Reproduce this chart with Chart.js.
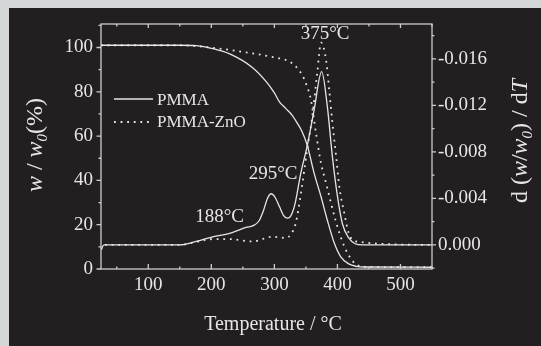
<!DOCTYPE html>
<html>
<head>
<meta charset="utf-8">
<script src="https://cdn.jsdelivr.net/npm/chart.js@4.4.1/dist/chart.umd.min.js"></script>
<style>
    html, body { margin: 0; padding: 0; background: #d5d6d8; }
    #wrap { width: 541px; height: 346px; }
</style>
</head>
<body>
<div id="wrap"><canvas id="tga" width="541" height="346"></canvas></div>
<script>
/* TGA / DTG of PMMA and PMMA-ZnO, white on a dark panel */

const SERIF = '"Liberation Serif", "Times New Roman", serif';
const INK = "#e6e6e6";
const FRAME = "#cdcdcd";

/* TG curves: residual weight (%) vs temperature (°C) */
const tgPmmaTemp = [25, 150, 176, 202, 230, 265, 287, 300, 308, 318, 328, 336, 344, 352, 363, 374, 384, 395, 405, 418, 430, 445, 550];
const tgPmma     = [101, 101, 100.8, 99.5, 97, 91, 84.6, 79.5, 75.5, 72.5, 69.5, 66, 62, 56, 43.3, 32.6, 22, 11.7, 5.6, 2.3, 1.2, 0.9, 0.8];

const tgZnoTemp = [25, 150, 181, 229, 260, 281, 300, 318, 330, 337, 344, 350, 358, 366, 374, 382, 390, 397, 405, 416, 430, 445, 550];
const tgZno     = [101, 101, 100.5, 98.9, 97.6, 96.6, 95.5, 94.4, 92.5, 90.5, 87.6, 83.8, 76.3, 61.3, 47.7, 38.7, 29.6, 22, 14.6, 7.1, 2, 1, 0.8];

/* DTG curves: d(w/w0)/dT */
const dtgPmmaTemp = [25, 30, 100, 150, 176, 202, 229, 255, 268, 276, 283, 289, 295, 301, 308, 315, 321, 327, 333, 342, 352, 363, 375, 384, 392, 400, 408, 418, 428, 440, 550];
const dtgPmma     = [0.0004, 0, 0, 0, -0.0003, -0.0007, -0.001, -0.0015, -0.0017, -0.0021, -0.003, -0.004, -0.0044, -0.0041, -0.0033, -0.0025, -0.0023, -0.0026, -0.0036, -0.0062, -0.0085, -0.0116, -0.0149, -0.0119, -0.0076, -0.0042, -0.0018, -0.0006, -0.0001, 0, 0];

const dtgZnoTemp = [25, 30, 150, 176, 202, 229, 265, 297, 318, 326, 334, 342, 352, 360, 368, 374, 382, 387, 392, 398, 403, 411, 418, 429, 550];
const dtgZno     = [0.0004, 0, 0, -0.00026, -0.0005, -0.0005, -0.0003, -0.0007, -0.0006, -0.0009, -0.0019, -0.0044, -0.0082, -0.011, -0.0148, -0.0174, -0.0159, -0.0133, -0.0105, -0.0076, -0.005, -0.0027, -0.001, -0.0003, 0];

/* tick values */
const xTicks = [100, 200, 300, 400, 500];
const xMinor = [50, 150, 250, 350, 450, 550];
const wTicks = [0, 20, 40, 60, 80, 100];
const wMinor = [10, 30, 50, 70, 90, 110];
const dTicks = [-0.016, -0.012, -0.008, -0.004, 0];
const dMinor = [-0.018, -0.014, -0.010, -0.006, -0.002, 0.002];

const seriesNames = ["PMMA", "PMMA-ZnO"];

/* peak annotations, anchored in (temperature, weight %) units */
const peakNotes = [
    { text: "188°C", t: 213, w: 23.3 },
    { text: "295°C", t: 298, w: 43.1 },
    { text: "375°C", t: 380.5, w: 106 },
];

const pairs = (xs, ys) => xs.map((x, i) => ({ x, y: ys[i] }));
const fixedTicks = vals => scale => { scale.ticks = vals.map(v => ({ value: v })); };

function richText(ctx, parts, cx, cy, size, angle) {
    const fontOf = p => `${p.italic ? "italic " : ""}${p.sub ? Math.round(size * 0.62) : size}px ${SERIF}`;
    let total = 0;
    parts.forEach(p => { ctx.font = fontOf(p); p.w = ctx.measureText(p.text).width; total += p.w; });
    ctx.save();
    ctx.translate(cx, cy);
    ctx.rotate(angle);
    ctx.textBaseline = "alphabetic";
    ctx.textAlign = "left";
    let x = -total / 2;
    const base = size * 0.33;
    parts.forEach(p => {
        ctx.font = fontOf(p);
        ctx.fillText(p.text, x, base + (p.sub ? size * 0.22 : 0));
        x += p.w;
    });
    ctx.restore();
}

const decor = {
    id: "decor",
    beforeDraw(chart) {
        const ctx = chart.ctx;
        ctx.save();
        ctx.fillStyle = "#d5d6d8";
        ctx.fillRect(0, 0, chart.width, chart.height);
        ctx.fillStyle = "#231f20";
        ctx.fillRect(9, 8, chart.width - 9, chart.height - 8);
        ctx.restore();
    },
    afterDraw(chart) {
        const ctx = chart.ctx;
        const { left, right, top, bottom } = chart.chartArea;
        const sx = chart.scales.x, sy = chart.scales.y, sd = chart.scales.y2;
        ctx.save();

        /* frame */
        ctx.strokeStyle = FRAME;
        ctx.lineWidth = 1.3;
        ctx.strokeRect(left, top, right - left, bottom - top);

        /* tick marks */
        ctx.beginPath();
        const mark = (x1, y1, x2, y2) => { ctx.moveTo(x1, y1); ctx.lineTo(x2, y2); };
        xTicks.forEach(v => { const p = sx.getPixelForValue(v); mark(p, bottom, p, bottom - 5); mark(p, top, p, top + 4); });
        xMinor.forEach(v => { const p = sx.getPixelForValue(v); mark(p, bottom, p, bottom - 2.5); mark(p, top, p, top + 2.5); });
        wTicks.forEach(v => { const p = sy.getPixelForValue(v); mark(left, p, left - 4.5, p); });
        wMinor.forEach(v => { const p = sy.getPixelForValue(v); mark(left, p, left - 2.5, p); });
        dTicks.forEach(v => { const p = sd.getPixelForValue(v); mark(right, p, right + 4, p); });
        dMinor.forEach(v => { const p = sd.getPixelForValue(v); mark(right, p, right + 2.5, p); });
        ctx.stroke();

        /* legend */
        ctx.strokeStyle = INK;
        ctx.lineWidth = 1.3;
        ctx.beginPath();
        mark(114, 99, 153, 99);
        ctx.stroke();
        ctx.lineWidth = 1.8;
        ctx.setLineDash([1.8, 4.8]);
        ctx.beginPath();
        mark(114, 122, 153, 122);
        ctx.stroke();
        ctx.setLineDash([]);

        ctx.fillStyle = INK;
        ctx.font = `17px ${SERIF}`;
        ctx.textAlign = "left";
        ctx.textBaseline = "middle";
        ctx.fillText(seriesNames[0], 157, 101);
        ctx.fillText(seriesNames[1], 157, 123);

        /* peak labels */
        ctx.font = `19px ${SERIF}`;
        ctx.textAlign = "center";
        peakNotes.forEach(n => ctx.fillText(n.text, sx.getPixelForValue(n.t), sy.getPixelForValue(n.w)));

        /* axis titles */
        ctx.font = `20px ${SERIF}`;
        ctx.fillText("Temperature / °C", 273, 325);
        richText(ctx, [
            { text: "w", italic: true }, { text: " / " }, { text: "w", italic: true },
            { text: "0", italic: true, sub: true }, { text: "(%)" },
        ], 34, 145, 24, -Math.PI / 2);
        richText(ctx, [
            { text: "d (" }, { text: "w", italic: true }, { text: "/" }, { text: "w", italic: true },
            { text: "0", italic: true, sub: true }, { text: ") / d" }, { text: "T", italic: true },
        ], 519, 141, 24, -Math.PI / 2);

        ctx.restore();
    },
};

const tickFont = { family: SERIF, size: 19 };

new Chart(document.getElementById("tga"), {
    type: "line",
    data: {
        datasets: [
            { data: pairs(tgPmmaTemp, tgPmma), yAxisID: "y", borderColor: INK, borderWidth: 1.3 },
            { data: pairs(tgZnoTemp, tgZno), yAxisID: "y", borderColor: INK, borderWidth: 1.8, borderDash: [1.8, 4.8] },
            { data: pairs(dtgPmmaTemp, dtgPmma), yAxisID: "y2", borderColor: INK, borderWidth: 1.3 },
            { data: pairs(dtgZnoTemp, dtgZno), yAxisID: "y2", borderColor: INK, borderWidth: 1.8, borderDash: [1.8, 4.8] },
        ],
    },
    options: {
        responsive: false,
        animation: false,
        events: [],
        layout: { padding: { top: 24, left: 0, right: 0, bottom: 0 } },
        elements: {
            point: { radius: 0 },
            line: { cubicInterpolationMode: "monotone", fill: false },
        },
        plugins: { legend: { display: false }, tooltip: { enabled: false } },
        scales: {
            x: {
                type: "linear",
                min: 25,
                max: 550,
                afterBuildTicks: fixedTicks(xTicks),
                afterFit: s => { s.height = 77; },
                grid: { display: false, drawTicks: false },
                border: { display: false },
                ticks: { color: INK, font: tickFont, padding: 5, maxRotation: 0 },
            },
            y: {
                position: "left",
                min: 0,
                max: 110.6,
                afterBuildTicks: fixedTicks(wTicks),
                afterFit: s => { s.width = 101; },
                grid: { display: false, drawTicks: false },
                border: { display: false },
                ticks: { color: INK, font: tickFont, padding: 8 },
            },
            y2: {
                position: "right",
                reverse: true,
                min: -0.019,
                max: 0.00207,
                afterBuildTicks: fixedTicks(dTicks),
                afterFit: s => { s.width = 109; },
                grid: { display: false, drawTicks: false },
                border: { display: false },
                ticks: { color: INK, font: tickFont, padding: 6, callback: v => v.toFixed(3) },
            },
        },
    },
    plugins: [decor],
});
</script>
</body>
</html>
